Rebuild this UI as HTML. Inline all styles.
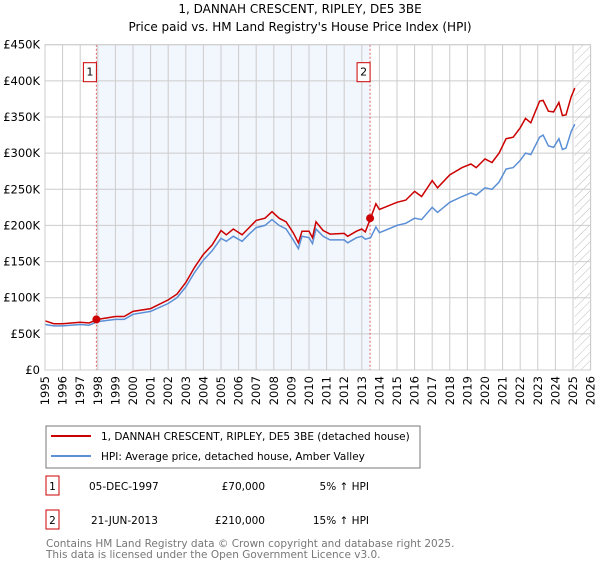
<!DOCTYPE html>
<html><head><meta charset="utf-8"><style>
body{margin:0;background:#fff;font-family:"Liberation Sans","DejaVu Sans",sans-serif;}
svg text{font-family:"DejaVu Sans","Liberation Sans",sans-serif;}
</style></head><body>
<svg id="chart" width="600" height="560" xmlns="http://www.w3.org/2000/svg">
<defs><pattern id="hatch" width="6" height="6" patternUnits="userSpaceOnUse" patternTransform="rotate(45)"><line x1="0" y1="0" x2="0" y2="6" stroke="#bbb" stroke-width="1"/></pattern></defs>
<text x="300" y="13" font-size="12" text-anchor="middle">1, DANNAH CRESCENT, RIPLEY, DE5 3BE</text>
<text x="300" y="31" font-size="12" text-anchor="middle">Price paid vs. HM Land Registry's House Price Index (HPI)</text>
<g id="plot"></g>
<g>
<rect x="46" y="426" width="374" height="42" fill="#fff" stroke="#777"/>
<line x1="51" y1="436" x2="91" y2="436" stroke="#cc0000" stroke-width="2"/>
<text x="101" y="440" font-size="10.5">1, DANNAH CRESCENT, RIPLEY, DE5 3BE (detached house)</text>
<line x1="51" y1="456" x2="91" y2="456" stroke="#5b8fd6" stroke-width="2"/>
<text x="101" y="460" font-size="10.5">HPI: Average price, detached house, Amber Valley</text>
</g>
<g font-size="10.5">
<rect x="46" y="476" width="13" height="19" fill="#fff" stroke="#cc0000"/><text x="52.5" y="490" text-anchor="middle">1</text>
<text x="89" y="490">05-DEC-1997</text><text x="265" y="490" text-anchor="end">£70,000</text><text x="369" y="490" text-anchor="end">5% ↑ HPI</text>
<rect x="46" y="510" width="13" height="19" fill="#fff" stroke="#cc0000"/><text x="52.5" y="524" text-anchor="middle">2</text>
<text x="91" y="524">21-JUN-2013</text><text x="265" y="524" text-anchor="end">£210,000</text><text x="369" y="524" text-anchor="end">15% ↑ HPI</text>
</g>
<g font-size="10.5" fill="#777">
<text x="46" y="547">Contains HM Land Registry data © Crown copyright and database right 2025.</text>
<text x="46" y="558">This data is licensed under the Open Government Licence v3.0.</text>
</g>
</svg>
<script>
const dates=[1995.0,1995.5,1996.0,1997.0,1997.5,1998.0,1999.0,1999.5,2000.0,2001.0,2002.0,2002.5,2003.0,2003.5,2004.0,2004.5,2005.0,2005.3,2005.7,2006.2,2006.6,2007.0,2007.5,2007.9,2008.3,2008.7,2009.1,2009.4,2009.6,2010.0,2010.2,2010.4,2010.8,2011.2,2012.0,2012.2,2012.7,2013.0,2013.2,2013.5,2013.8,2014.0,2015.0,2015.5,2016.0,2016.4,2017.0,2017.3,2018.0,2018.7,2019.2,2019.5,2020.0,2020.4,2020.8,2021.2,2021.6,2022.0,2022.3,2022.6,2023.1,2023.3,2023.6,2023.9,2024.2,2024.4,2024.6,2024.9,2025.1];
const hpiValues=[63,61,61,63,62,67,70,70,77,81,92,100,115,135,152,165,182,178,185,178,188,197,200,208,200,195,180,168,185,183,175,195,185,180,180,176,183,185,181,183,198,190,200,203,210,208,225,218,232,240,245,242,252,250,260,278,280,290,300,298,322,325,310,308,320,305,307,330,340];
const priceValues=[68,64,64,66,65,70,74,74,81,85,97,105,121,142,160,173,193,187,195,187,197,207,210,219,210,205,190,176,192,192,183,205,193,188,189,185,192,195,191,210,230,222,232,235,247,240,262,252,270,280,285,280,292,287,300,320,322,335,348,342,372,373,358,357,370,352,353,378,390];
const saleDates=[1997.92,2013.47];
const saleValues=[70,210];
const saleLabels=["1","2"];
const yTicks=[0,50,100,150,200,250,300,350,400,450];
const yTickLabels=["£0","£50K","£100K","£150K","£200K","£250K","£300K","£350K","£400K","£450K"];
const xYears=[1995,1996,1997,1998,1999,2000,2001,2002,2003,2004,2005,2006,2007,2008,2009,2010,2011,2012,2013,2014,2015,2016,2017,2018,2019,2020,2021,2022,2023,2024,2025,2026];
const X0=45,XS=17.6,Y0=370,YT=44.7;
const x=t=>X0+(t-1995)*XS;
const y=v=>Y0-(v/450)*(Y0-YT);
const NS="http://www.w3.org/2000/svg";
const g=document.getElementById('plot');
function mk(tag,attrs){const e=document.createElementNS(NS,tag);for(const k in attrs)e.setAttribute(k,attrs[k]);g.appendChild(e);return e;}
const xL=x(1995),xR=x(2026);
let e=mk('rect',{x:xL,y:YT,width:xR-xL,height:Y0-YT,fill:'#fff'});


e=mk('rect',{x:x(saleDates[0]),y:YT,width:x(saleDates[1])-x(saleDates[0]),height:Y0-YT,fill:'#f2f6fd'});


e=mk('rect',{x:x(2025.1),y:YT,width:xR-x(2025.1),height:Y0-YT,fill:'url(#hatch)'});


yTicks.forEach((v,i)=>{
 const l=mk('line',{x1:xL,x2:xR,y1:y(v),y2:y(v),stroke:'#ccc','stroke-width':1});
 
 
 const t=mk('text',{x:xL-5,y:y(v)+4,'font-size':11.5,'text-anchor':'end'});t.textContent=yTickLabels[i];
 
 
});
xYears.forEach(yr=>{
 const l=mk('line',{x1:x(yr),x2:x(yr),y1:YT,y2:Y0,stroke:'#ccc','stroke-width':1});
 
 
 const t=mk('text',{x:x(yr)+4,y:Y0+6,'font-size':11.5,'text-anchor':'end',transform:`rotate(-90 ${x(yr)+4} ${Y0+6})`});t.textContent=yr;
 
 
});
saleDates.forEach((d,i)=>{
 const l=mk('line',{x1:x(d),x2:x(d),y1:YT,y2:Y0,stroke:'#e06060','stroke-width':1,'stroke-dasharray':'2,2'});
 
 
 const r=mk('rect',{x:x(d)-13,y:YT+18,width:13,height:19,fill:'#fff',stroke:'#cc0000'});
 
 
 const t=mk('text',{x:x(d)-6.5,y:YT+31,'font-size':11,'text-anchor':'middle'});t.textContent=saleLabels[i];
 
 
});
const pts=vals=>vals.map((v,i)=>x(dates[i]).toFixed(1)+','+y(v).toFixed(1)).join(' ');
e=mk('polyline',{points:pts(hpiValues),fill:'none',stroke:'#5b8fd6','stroke-width':1.5});


e=mk('polyline',{points:pts(priceValues),fill:'none',stroke:'#cc0000','stroke-width':1.5});


saleDates.forEach((d,i)=>{
 const c=mk('circle',{cx:x(d),cy:y(saleValues[i]),r:4,fill:'#cc0000'});
 
 
});
e=mk('rect',{x:xL,y:YT,width:xR-xL,height:Y0-YT,fill:'none',stroke:'#ccc'});


</script>
</body></html>
